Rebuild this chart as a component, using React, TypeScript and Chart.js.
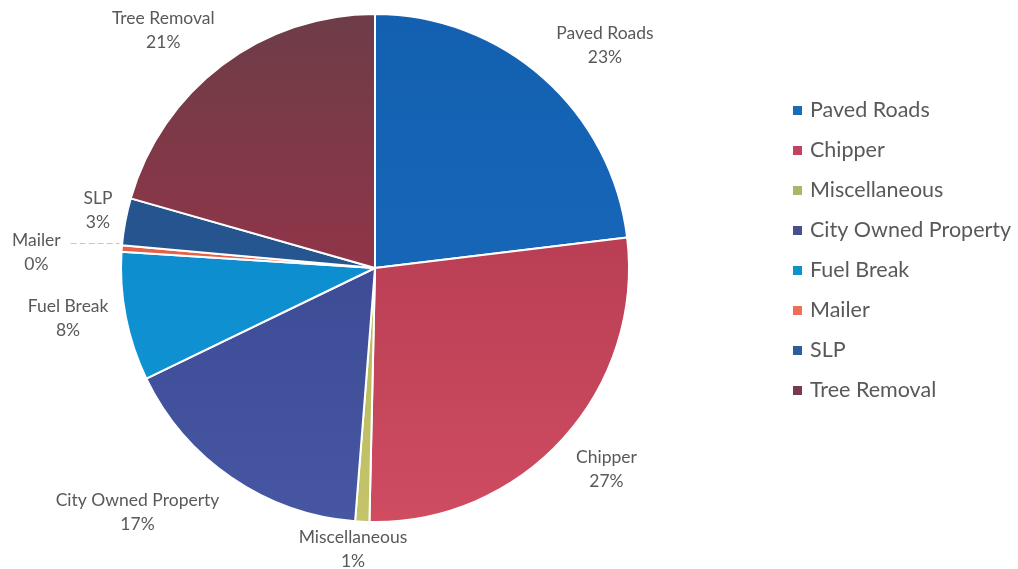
import React, { useEffect, useRef } from "react";
import { Chart, registerables } from "chart.js";

Chart.register(...registerables);

// Share of spending by program area (percent of total)
const categories = [
  "Paved Roads",
  "Chipper",
  "Miscellaneous",
  "City Owned Property",
  "Fuel Break",
  "Mailer",
  "SLP",
  "Tree Removal",
];
const shares = [23.1, 27.3, 0.9, 16.6, 8.2, 0.4, 3.0, 20.6];

// Slice fills: darker tone at the top of the pie, lighter tone toward the bottom
const topColors = ["#1360b0", "#a8344a", "#a9ae4e", "#36428a", "#0b86c8", "#e0583f", "#224f88", "#6d3d47"];
const bottomColors = ["#1a6cbf", "#cf4c61", "#c4c46a", "#4656a2", "#1096d6", "#ee6a52", "#2a5c98", "#b32d4a"];
const legendColors = ["#1b6bbb", "#c04460", "#a6b86a", "#47508e", "#0d93c9", "#ef6f56", "#2a5f9c", "#7b3a4c"];

// Label placement around the rim: extra distance beyond the edge (px) and angular nudge (deg)
const labelGap = [66, 53, 28, 87, 57, 85, 29, 64];
const labelNudge = [4.4, -1.1, 1.6, 9.8, 1.8, -1.7, 1.2, -4.7];

const FONT = "Lato, 'Open Sans', sans-serif";
const TEXT = "#595959";

const sliceLabels = {
  id: "sliceLabels",
  afterDatasetsDraw(chart: any) {
    const { ctx } = chart;
    const meta = chart.getDatasetMeta(0);
    const total = shares.reduce((a, b) => a + b, 0);
    ctx.save();
    ctx.font = `17.5px ${FONT}`;
    ctx.fillStyle = TEXT;
    ctx.textAlign = "center";
    ctx.textBaseline = "middle";
    meta.data.forEach((arc: any, i: number) => {
      const { x, y, startAngle, endAngle, outerRadius } = arc.getProps(
        ["x", "y", "startAngle", "endAngle", "outerRadius"],
        true
      );
      const mid = (startAngle + endAngle) / 2;
      const a = mid + (labelNudge[i] * Math.PI) / 180;
      const d = outerRadius + labelGap[i];
      const lx = x + Math.cos(a) * d;
      const ly = y + Math.sin(a) * d;
      const pct = Math.round((shares[i] / total) * 100) + "%";
      ctx.fillText(categories[i], lx, ly - 12);
      ctx.fillText(pct, lx, ly + 12);
      if (categories[i] === "Mailer") {
        // leader line from the label to the thin slice
        const ex = x + Math.cos(mid) * outerRadius;
        const ey = y + Math.sin(mid) * outerRadius;
        const w = ctx.measureText(categories[i]).width;
        ctx.strokeStyle = "#c8c8c8";
        ctx.lineWidth = 1;
        ctx.setLineDash([6, 3]);
        ctx.beginPath();
        ctx.moveTo(lx + w / 2 + 10, ey - 5);
        ctx.lineTo(ex - 2, ey - 5);
        ctx.stroke();
        ctx.setLineDash([]);
      }
    });
    ctx.restore();
  },
};

const sideLegend = {
  id: "sideLegend",
  afterDraw(chart: any) {
    const { ctx } = chart;
    const left = 793;
    const top = 110;
    const step = 40;
    ctx.save();
    ctx.font = `21.5px ${FONT}`;
    ctx.textBaseline = "middle";
    ctx.textAlign = "left";
    categories.forEach((name, i) => {
      const cy = top + i * step;
      ctx.fillStyle = legendColors[i];
      ctx.fillRect(left, cy - 4, 9, 9);
      ctx.fillStyle = TEXT;
      ctx.fillText(name, left + 17, cy);
    });
    ctx.restore();
  },
};

export default function App() {
  const canvasRef = useRef<HTMLCanvasElement>(null);

  useEffect(() => {
    const canvas = canvasRef.current;
    if (!canvas) return;
    const chart = new Chart(canvas, {
      type: "pie",
      data: {
        labels: categories,
        datasets: [
          {
            data: shares,
            backgroundColor: (c: any) => {
              const area = c.chart.chartArea;
              const i = c.dataIndex;
              if (!area || i === undefined) return topColors[i ?? 0];
              const g = c.chart.ctx.createLinearGradient(0, area.top, 0, area.bottom);
              g.addColorStop(0, topColors[i]);
              g.addColorStop(1, bottomColors[i]);
              return g;
            },
            borderColor: "#ffffff",
            borderWidth: 2,
          },
        ],
      },
      options: {
        responsive: false,
        animation: false,
        devicePixelRatio: 1,
        layout: { padding: { left: 120, right: 388, top: 13, bottom: 46 } },
        plugins: {
          legend: { display: false },
          tooltip: { enabled: false },
        },
      },
      plugins: [sliceLabels, sideLegend],
    });
    return () => chart.destroy();
  }, []);

  return (
    <div style={{ position: "fixed", left: 0, top: 0, width: 1018, height: 569, background: "#ffffff" }}>
      <canvas ref={canvasRef} width={1018} height={569} />
    </div>
  );
}
